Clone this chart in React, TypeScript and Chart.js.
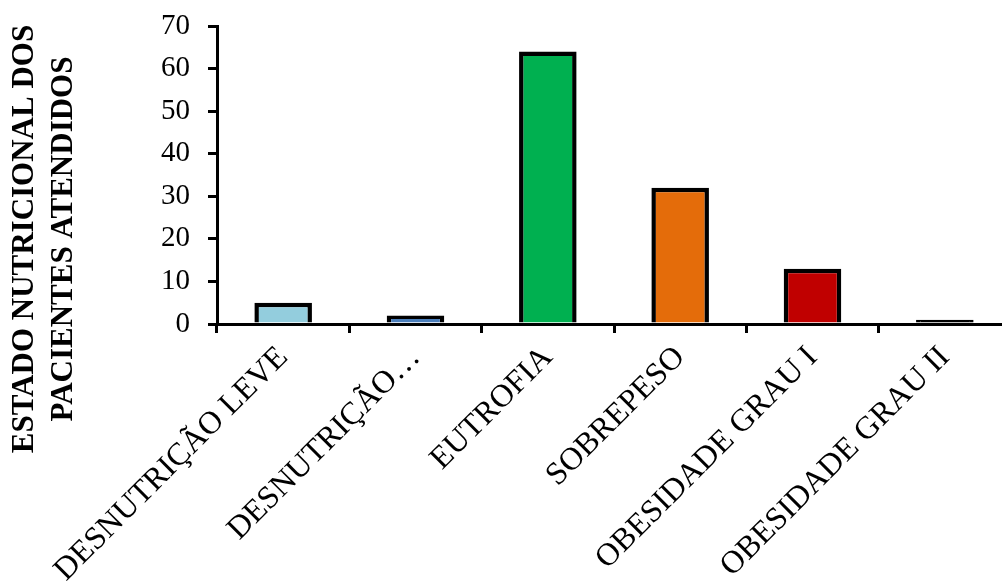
import { useEffect, useRef } from "react";
import { Chart, registerables } from "chart.js";

Chart.register(...registerables);

const categories = [
  "DESNUTRIÇÃO LEVE",
  "DESNUTRIÇÃO…",
  "EUTROFIA",
  "SOBREPESO",
  "OBESIDADE GRAU I",
  "OBESIDADE GRAU II",
];
const patientCounts = [5, 2, 64, 32, 13, 1];
const barColors = ["#93CDDD", "#4A7EBB", "#00B050", "#E46C0A", "#C00000", "#000000"];
const yMin = 0;
const yMax = 70;
const yStep = 10;
const yTitleLines = ["ESTADO NUTRICIONAL DOS", "PACIENTES ATENDIDOS"];

const SERIF = "'Liberation Serif', 'Times New Roman', serif";
const CANVAS_W = 1015;
const CANVAS_H = 585;

// Two-line vertical axis title, drawn in the left margin.
const yTitlePlugin = {
  id: "yTitleTwoLines",
  afterDraw(chart: any) {
    const ctx = chart.ctx;
    ctx.save();
    ctx.font = `bold 31px ${SERIF}`;
    ctx.fillStyle = "#000";
    ctx.textAlign = "center";
    ctx.textBaseline = "middle";
    ctx.translate(0, 239);
    ctx.rotate(-Math.PI / 2);
    ctx.fillText(yTitleLines[0], 0, 25);
    ctx.fillText(yTitleLines[1], 0, 64);
    ctx.restore();
  },
};

export default function App() {
  const canvasRef = useRef<HTMLCanvasElement | null>(null);

  useEffect(() => {
    const canvas = canvasRef.current;
    if (!canvas) return;
    const chart = new Chart(canvas, {
      type: "bar",
      data: {
        labels: categories,
        datasets: [
          {
            data: patientCounts,
            backgroundColor: barColors,
            borderColor: "#000",
            borderWidth: 4.5,
            categoryPercentage: 1,
            barPercentage: 0.435,
          },
        ],
      },
      options: {
        animation: false,
        responsive: false,
        devicePixelRatio: 1,
        layout: { padding: { top: 26, left: 0, right: 4, bottom: 0 } },
        plugins: {
          legend: { display: false },
          tooltip: { enabled: false },
        },
        scales: {
          x: {
            afterFit(scale: any) {
              scale.height = 261;
            },
            grid: {
              offset: true,
              drawOnChartArea: false,
              drawTicks: true,
              tickLength: 9,
              color: "#000",
              tickColor: "#000",
              lineWidth: 3,
              tickWidth: 3,
            },
            border: { display: true, color: "#000", width: 3 },
            ticks: {
              color: "#000",
              font: { family: SERIF, size: 32 },
              minRotation: 45,
              maxRotation: 45,
              autoSkip: false,
              padding: 6,
            },
          },
          y: {
            min: yMin,
            max: yMax,
            afterFit(scale: any) {
              scale.width = 217;
              scale.paddingTop = 14;
              scale.paddingBottom = 14;
            },
            grid: {
              drawOnChartArea: false,
              drawTicks: true,
              tickLength: 9,
              color: "#000",
              tickColor: "#000",
              lineWidth: 3,
              tickWidth: 3,
            },
            border: { display: true, color: "#000", width: 3 },
            ticks: {
              stepSize: yStep,
              color: "#000",
              font: { family: SERIF, size: 29 },
              padding: 18,
            },
          },
        },
      },
      plugins: [yTitlePlugin],
    });
    return () => chart.destroy();
  }, []);

  return (
    <div
      style={{
        position: "fixed",
        left: 0,
        top: 0,
        width: 1002,
        height: 585,
        overflow: "hidden",
        background: "#fff",
      }}
    >
      <canvas
        ref={canvasRef}
        width={CANVAS_W}
        height={CANVAS_H}
        style={{ position: "absolute", left: 0, top: 0, width: CANVAS_W, height: CANVAS_H }}
      />
    </div>
  );
}
